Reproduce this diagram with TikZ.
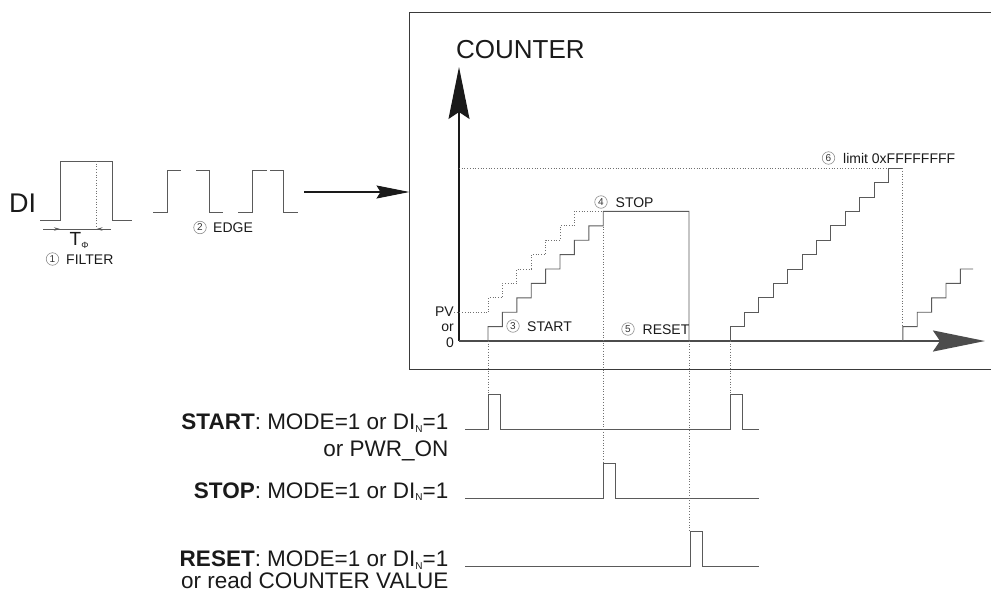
\documentclass[tikz,border=0pt]{standalone}
\usepackage{fontspec}
\setmainfont{Liberation Sans}
\usetikzlibrary{arrows.meta}
\definecolor{linec}{HTML}{5A5A5A}
\definecolor{framec}{HTML}{3A3A3A}
\definecolor{dotc}{HTML}{707070}
\definecolor{txtc}{HTML}{1A1A1A}
\newcommand{\fs}[1]{\fontsize{#1}{#1}\selectfont}
\newcommand{\subN}{\raisebox{-2.5pt}{\fs{10}N}}
\begin{document}
\begin{tikzpicture}[x=1pt,y=-1pt,
  sig/.style={draw=linec, line width=0.9pt},
  dots/.style={draw=dotc, line width=0.7pt, dash pattern=on 0.9pt off 1.8pt},
  cnum/.style={circle, draw=black!45, line width=0.6pt, inner sep=0pt, minimum size=12.5pt, text=black!80, font=\fs{10}},
  lbl/.style={anchor=west, inner sep=0pt, text=txtc, font=\fs{14}},
  big/.style={inner sep=0pt, text=txtc, font=\fs{22.5}},
  bigtip/.style={-{Stealth[length=52pt, width=21pt, inset=7pt]}}
]
\useasboundingbox (0,0) rectangle (991,592);

% ---------- DI input pulse with filter ----------
\node[anchor=base west, inner sep=0pt, text=txtc, font=\fs{27}] (di) at (9,212) {DI};
\draw[sig] (40,220.5) -- (60,220.5) -- (60,161) -- (112,161) -- (112,220.5) -- (132,220.5);
\draw[dots] (96.5,161) -- (96.5,228);
\draw[linec, line width=0.7pt] (43,229) -- (111,229);
\draw[linec, line width=0.7pt, -{Stealth[length=6pt, width=3.5pt]}] (48,229) -- (60,229);
\draw[linec, line width=0.7pt, -{Stealth[length=6pt, width=3.5pt]}] (108,229) -- (96.5,229);
\node[anchor=base west, inner sep=0pt, text=txtc, font=\fs{19}] (tphi) at (69.5,245) {T\raisebox{-3.5pt}{\fs{9}Φ}};
\node[cnum] (c1) at (52.5,259) {1};
\node[lbl] (filter) at (66,259.5) {FILTER};

% ---------- EDGE pulses ----------
\draw[sig] (153,212) -- (167,212) -- (167,170) -- (181,170);
\draw[sig] (196,170) -- (209,170) -- (209,212) -- (223,212);
\draw[sig] (238,212) -- (252,212) -- (252,170) -- (266.5,170);
\draw[sig] (270,170) -- (283,170) -- (283,212) -- (298,212);
\node[cnum] (c2) at (200,227.5) {2};
\node[lbl] (edge) at (213,227.5) {EDGE};

% ---------- arrow into counter frame ----------
\coordinate (ain) at (304,192);
\coordinate (aout) at (409.5,192);
\draw[draw=txtc, line width=1.1pt, -{Stealth[length=33pt, width=13pt, inset=4pt]}] (ain) -- (aout);

% ---------- counter frame ----------
\draw[draw=framec, line width=1.5pt] (1010,12.5) -- (409.5,12.5) -- (409.5,369.5) -- (1010,369.5);
\node[anchor=base west, inner sep=0pt, text=txtc, font=\fs{26}] (counter) at (456,58) {COUNTER};

% axes
\coordinate (O) at (459,341);
\coordinate (ytip) at (459,67);
\coordinate (xtip) at (985,341);
\draw[draw=txtc, line width=1.3pt, bigtip] (O) -- (ytip);
\draw[draw=black!70, line width=2.4pt, bigtip] (O) -- (xtip);

% axis labels
\node[anchor=east, inner sep=0pt, text=txtc, font=\fs{14}] (pv) at (454,312) {PV};
\node[anchor=east, inner sep=0pt, text=txtc, font=\fs{14}] (or) at (454,328) {or};
\node[anchor=east, inner sep=0pt, text=txtc, font=\fs{14}] (zero) at (454,343) {0};

% limit line and PV line
\draw[dots] (459,168.2) -- (888.4,168.2);
\draw[dots] (454,312.2) -- (488,312.2);

% dotted staircase from PV
\draw[dots] (488,312.2) \foreach \k in {1,...,7}{ |- ++(14.4,-14.4) } -- ++(14.4,0);

% first solid staircase (start -> stop -> reset)
\draw[sig] (488,341) \foreach \k in {1,...,8}{ |- ++(14.4,-14.4) } -- ++(0,-14.4) -- (689,211.4) -- (689,341);

% second staircase up to limit
\draw[sig] (730,341) \foreach \k in {1,...,11}{ |- ++(14.4,-14.4) } -- ++(0,-14.4) -- ++(14.4,0);
\draw[dots] (902.8,168.2) -- (902.8,327);
% third staircase (overflow)
\draw[sig] (902.8,341) \foreach \k in {1,...,4}{ |- ++(14.4,-14.4) } -- ++(0,-14.4) -- (973,269);

% labels in the chart
\node[cnum] (c3) at (513,326) {3};
\node[lbl] (lstart) at (527,326.5) {START};
\node[cnum] (c4) at (601,202) {4};
\node[lbl] (lstop) at (615.5,202.5) {STOP};
\node[cnum] (c5) at (628,329) {5};
\node[lbl] (lreset) at (642.5,329.5) {RESET};
\node[cnum] (c6) at (828.5,158) {6};
\node[lbl] (llimit) at (843,158.5) {limit 0xFFFFFFFF};

% ---------- control signals ----------
\draw[sig] (465,429) -- (488,429) -- (488,394) -- (500,394) -- (500,429) -- (730,429) -- (730,394) -- (742,394) -- (742,429) -- (759,429);
\draw[sig] (465,498) -- (603.2,498) -- (603.2,463) -- (615,463) -- (615,498) -- (759,498);
\draw[sig] (465,566) -- (690,566) -- (690,531) -- (702,531) -- (702,566) -- (759,566);

% dotted guide lines
\draw[dots] (488,341) -- (488,394);
\draw[dots] (603.2,226.6) -- (603.2,463);
\draw[dots] (689.5,341) -- (689.5,531);
\draw[dots] (730,341) -- (730,394);

% signal texts
\node[big, anchor=base east] (tstart) at (448.5,429.5) {\textbf{START}: MODE=1 or DI\subN=1};
\node[big, anchor=base east] (tpwr) at (448.5,456.5) {or PWR\_ON};
\node[big, anchor=base east] (tstop) at (448.5,498) {\textbf{STOP}: MODE=1 or DI\subN=1};
\node[big, anchor=base east] (treset) at (448.5,566.5) {\textbf{RESET}: MODE=1 or DI\subN=1};
\node[big, anchor=base east] (tread) at (448.5,588) {or read COUNTER VALUE};
\end{tikzpicture}
\end{document}
